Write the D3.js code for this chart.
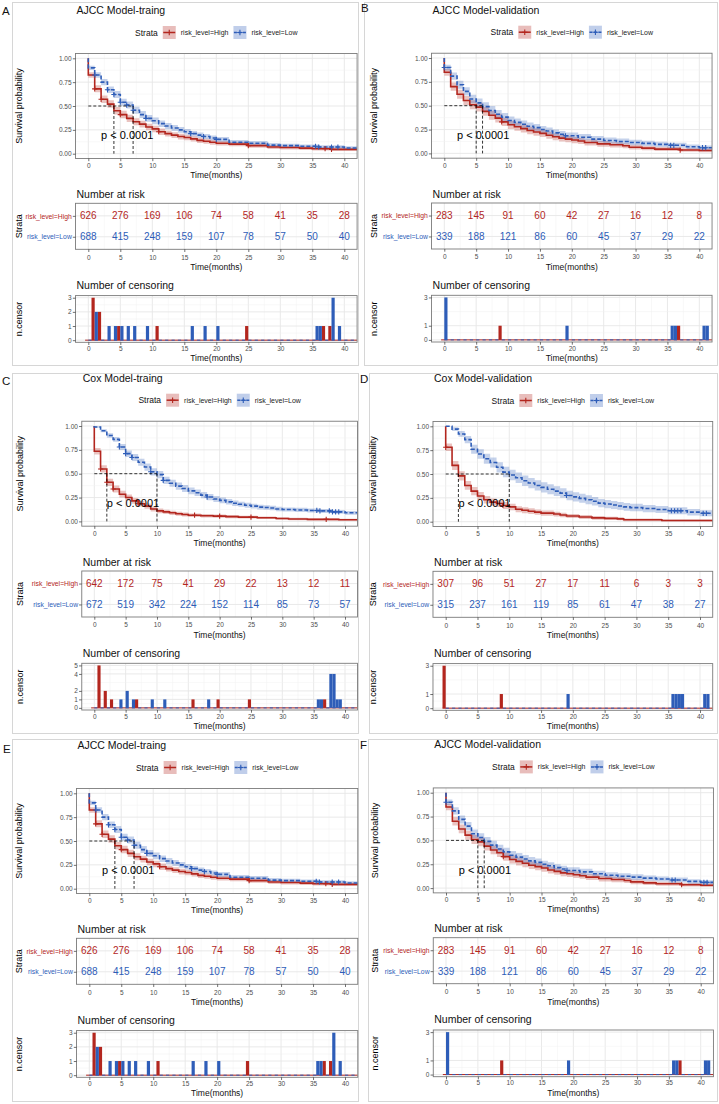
<!DOCTYPE html>
<html><head><meta charset="utf-8">
<script src="https://cdn.jsdelivr.net/npm/d3@7/dist/d3.min.js"></script>
<style>html,body{margin:0;padding:0;background:#fff;}svg{display:block;}</style>
</head><body>
<svg id="chart" width="719" height="1104" xmlns="http://www.w3.org/2000/svg"></svg>
<script>
// ================= DATA =================
const timeTicks = [0, 5, 10, 15, 20, 25, 30, 35, 40];
const survTicks = [0, 0.25, 0.5, 0.75, 1];
const strataNames = ["risk_level=High", "risk_level=Low"];
const pValueText = "p < 0.0001";

// ---- AJCC Model - training (A, E)
const ajccTrainHighTime = [0,1,2,3,4,5,6,7,8,9,10,11,12,13,14,15,16,17,18,19,20,22,25,28,30,33,35,38];
const ajccTrainHighSurv = [0.825,0.68,0.57,0.52,0.45,0.41,0.37,0.335,0.31,0.28,0.26,0.23,0.21,0.195,0.18,0.17,0.155,0.14,0.13,0.12,0.11,0.10,0.085,0.07,0.065,0.058,0.052,0.045];
const ajccTrainHighCI   = [0.03,0.037,0.039,0.039,0.039,0.039,0.038,0.037,0.036,0.035,0.034,0.033,0.031,0.03,0.03,0.029,0.028,0.027,0.026,0.025,0.024,0.023,0.022,0.021,0.02,0.019,0.019,0.018];
const ajccTrainLowTime  = [0,1,2,3,4,5,6,7,8,9,10,11,12,13,14,15,16,17,18,19,20,22,25,28,30,33,36,40];
const ajccTrainLowSurv  = [0.90,0.825,0.75,0.67,0.62,0.54,0.51,0.455,0.41,0.37,0.345,0.315,0.29,0.27,0.25,0.23,0.21,0.195,0.18,0.165,0.15,0.12,0.11,0.09,0.085,0.078,0.07,0.06];
const ajccTrainLowCI    = [0.022,0.029,0.033,0.035,0.036,0.037,0.037,0.037,0.037,0.036,0.035,0.034,0.033,0.032,0.031,0.03,0.029,0.028,0.027,0.026,0.025,0.024,0.022,0.021,0.02,0.019,0.019,0.018];
const ajccTrainHighRisk = [626,276,169,106,74,58,41,35,28];
const ajccTrainLowRisk  = [688,415,248,159,107,78,57,50,40];
const ajccTrainHighCens = [[1,3],[2,2],[5,1],[11,1],[25,1],[37,1],[38,1]];
const ajccTrainLowCens  = [[1,2],[3,1],[4,1],[5,1],[6,1],[7,1],[9,1],[16,1],[18,1],[20,1],[35.5,1],[36,1],[38,3],[39,1]];
const ajccTrainMedians  = [4, 7];
const ajccTrainCensTicks = [0,1,2,3];

// ---- AJCC Model - validation (B, F)
const ajccValHighTime = [0,1,2,3,4,5,6,7,8,9,10,11,12,13,14,15,16,17,18,19,20,21,22,24,26,28,29,31,33,37,40];
const ajccValHighSurv = [0.85,0.70,0.62,0.555,0.51,0.485,0.44,0.40,0.37,0.33,0.30,0.28,0.26,0.24,0.225,0.21,0.19,0.175,0.16,0.15,0.14,0.13,0.115,0.10,0.09,0.08,0.065,0.055,0.045,0.035,0.03];
const ajccValHighCI   = [0.035,0.044,0.046,0.047,0.047,0.047,0.046,0.046,0.045,0.044,0.043,0.042,0.041,0.04,0.039,0.038,0.037,0.036,0.035,0.034,0.033,0.032,0.031,0.03,0.028,0.027,0.025,0.023,0.021,0.019,0.018];
const ajccValLowTime  = [0,1,2,3,4,5,6,7,8,9,10,11,12,13,14,15,16,17,18,19,21,23,25,27,29,31,33,35,38,40];
const ajccValLowSurv  = [0.90,0.81,0.72,0.65,0.57,0.53,0.49,0.45,0.41,0.38,0.345,0.325,0.305,0.285,0.27,0.25,0.235,0.215,0.2,0.185,0.17,0.15,0.135,0.125,0.115,0.105,0.095,0.085,0.07,0.06];
const ajccValLowCI    = [0.03,0.038,0.042,0.044,0.045,0.046,0.046,0.046,0.045,0.044,0.043,0.042,0.041,0.04,0.039,0.038,0.037,0.036,0.035,0.034,0.033,0.032,0.031,0.03,0.029,0.028,0.027,0.026,0.024,0.022];
const ajccValHighRisk = [283,145,91,60,42,27,16,12,8];
const ajccValLowRisk  = [339,188,121,86,60,45,37,29,22];
const ajccValHighCens = [[9,1],[37,1]];
const ajccValLowCens  = [[0,3],[19,1],[35.5,1],[36,1],[40.5,1],[41,1]];
const ajccValMedians  = [5, 6];
const ajccValCensTicks = [0,1,3];

// ---- Cox Model - training (C)
const coxTrainHighTime = [0,1,2,3,4,5,6,7,8,9,10,11,12,13,14,15,17,19,21,23,26,29,31,34,39];
const coxTrainHighSurv = [0.735,0.55,0.41,0.34,0.285,0.25,0.215,0.185,0.16,0.13,0.11,0.1,0.09,0.08,0.072,0.065,0.06,0.055,0.05,0.045,0.038,0.03,0.025,0.021,0.018];
const coxTrainHighCI   = [0.034,0.038,0.038,0.037,0.035,0.033,0.031,0.03,0.028,0.026,0.024,0.023,0.022,0.021,0.02,0.019,0.018,0.017,0.016,0.015,0.014,0.013,0.012,0.011,0.01];
const coxTrainLowTime  = [0,1,2,3,4,5,6,7,8,9,10,11,12,13,14,15,16,17,18,19,20,21,22,23,24,25,26,27,28,29,30,32,34,36,38,40];
const coxTrainLowSurv  = [0.99,0.95,0.90,0.86,0.78,0.71,0.67,0.62,0.57,0.52,0.49,0.43,0.40,0.37,0.345,0.32,0.30,0.275,0.255,0.235,0.22,0.205,0.19,0.18,0.17,0.16,0.15,0.145,0.14,0.13,0.125,0.12,0.115,0.11,0.10,0.09];
const coxTrainLowCI    = [0.008,0.016,0.023,0.026,0.031,0.034,0.036,0.037,0.038,0.038,0.038,0.038,0.037,0.037,0.036,0.035,0.034,0.033,0.032,0.031,0.03,0.029,0.028,0.027,0.026,0.025,0.025,0.024,0.024,0.023,0.022,0.022,0.021,0.021,0.02,0.02];
const coxTrainHighRisk = [642,172,75,41,29,22,13,12,11];
const coxTrainLowRisk  = [672,519,342,224,152,114,85,73,57];
const coxTrainHighCens = [[1,5],[2,2],[3,1],[7,1],[16,1],[20,1],[25,1],[37,1]];
const coxTrainLowCens  = [[4,1],[5,2],[6,1],[9,1],[11,1],[18,1],[35.5,1],[36,1],[37.5,4],[38,4],[38.5,1],[39,1]];
const coxTrainMedians  = [2, 10];
const coxTrainCensTicks = [0,1,2,4,5];

// ---- Cox Model - validation (D)
const coxValHighTime = [0,1,2,3,4,5,6,7,8,9,10,11,12,13,14,15,17,18,19,21,23,25,27,28,34];
const coxValHighSurv = [0.78,0.59,0.48,0.38,0.32,0.27,0.23,0.205,0.19,0.17,0.155,0.13,0.12,0.11,0.10,0.09,0.08,0.07,0.06,0.05,0.04,0.035,0.03,0.02,0.012];
const coxValHighCI   = [0.04,0.047,0.048,0.046,0.044,0.042,0.04,0.038,0.037,0.036,0.034,0.032,0.031,0.03,0.028,0.027,0.025,0.024,0.022,0.021,0.02,0.018,0.016,0.014,0.01];
const coxValLowTime  = [1,2,3,4,5,6,7,8,9,10,11,12,13,14,15,16,17,18,19,20,21,22,23,24,25,26,27,28,29,31,33,35,38,40];
const coxValLowSurv  = [0.97,0.92,0.86,0.76,0.71,0.66,0.62,0.57,0.52,0.49,0.46,0.43,0.405,0.38,0.36,0.34,0.32,0.30,0.275,0.26,0.245,0.23,0.215,0.195,0.185,0.175,0.165,0.155,0.148,0.138,0.128,0.115,0.10,0.088];
const coxValLowCI    = [0.019,0.03,0.038,0.047,0.05,0.052,0.053,0.054,0.055,0.055,0.055,0.055,0.054,0.054,0.053,0.052,0.051,0.05,0.049,0.048,0.047,0.046,0.045,0.044,0.043,0.042,0.041,0.04,0.039,0.038,0.037,0.036,0.034,0.032];
const coxValHighRisk = [307,96,51,27,17,11,6,3,3];
const coxValLowRisk  = [315,237,161,119,85,61,47,38,27];
const coxValHighCens = [[0,3],[9,1]];
const coxValLowCens  = [[19,1],[35.5,1],[36,1],[36.5,1],[37,1],[40.5,1],[41,1]];
const coxValMedians  = [2, 10];
const coxValCensTicks = [0,1,3];

// ================= ASSEMBLY =================
function mk(hT,hS,hC,hR,hX,lT,lS,lC,lR,lX,med,ct){
  return {high:{time:hT,surv:hS,ci:hC,risk:hR,cens:hX},
          low:{time:lT,surv:lS,ci:lC,risk:lR,cens:lX}, medians:med, censTicks:ct};
}
const ajccTrain = mk(ajccTrainHighTime,ajccTrainHighSurv,ajccTrainHighCI,ajccTrainHighRisk,ajccTrainHighCens,
                     ajccTrainLowTime,ajccTrainLowSurv,ajccTrainLowCI,ajccTrainLowRisk,ajccTrainLowCens,ajccTrainMedians,ajccTrainCensTicks);
const ajccVal = mk(ajccValHighTime,ajccValHighSurv,ajccValHighCI,ajccValHighRisk,ajccValHighCens,
                   ajccValLowTime,ajccValLowSurv,ajccValLowCI,ajccValLowRisk,ajccValLowCens,ajccValMedians,ajccValCensTicks);
const coxTrain = mk(coxTrainHighTime,coxTrainHighSurv,coxTrainHighCI,coxTrainHighRisk,coxTrainHighCens,
                    coxTrainLowTime,coxTrainLowSurv,coxTrainLowCI,coxTrainLowRisk,coxTrainLowCens,coxTrainMedians,coxTrainCensTicks);
const coxVal = mk(coxValHighTime,coxValHighSurv,coxValHighCI,coxValHighRisk,coxValHighCens,
                  coxValLowTime,coxValLowSurv,coxValLowCI,coxValLowRisk,coxValLowCens,coxValMedians,coxValCensTicks);

const panels = [
  {id:"A", title:"AJCC Model-traing",   d:ajccTrain, box:[12,2,358,365],    letter:[2,15],    y1:58.3,  x0:88.3,  x40:344.3, labX:18.5},
  {id:"B", title:"AJCC Model-validation",d:ajccVal,  box:[364,2,717,365],   letter:[361,12],  y1:58,    x0:444.3, x40:699.3, labX:373.5},
  {id:"C", title:"Cox Model-traing",    d:coxTrain,  box:[12,373,358,733],  letter:[2,385],   y1:426,   x0:94.3,  x40:345,   labX:19.5},
  {id:"D", title:"Cox Model-validation",d:coxVal,    box:[369,373,717,733], letter:[360,383], y1:426.3, x0:445.7, x40:700,   labX:373},
  {id:"E", title:"AJCC Model-traing",   d:ajccTrain, box:[12,739,358,1101], letter:[3,753],   y1:793.3, x0:89.3,  x40:345,   labX:18.5},
  {id:"F", title:"AJCC Model-validation",d:ajccVal,  box:[368,739,717,1101],letter:[360,749], y1:792.7, x0:446,   x40:700.7, labX:375}
];

// ================= DRAWING =================
const FONT = "'Liberation Sans', Arial, Helvetica, sans-serif";
const RED = "#B3261E", BLUE = "#2E5DB8";
const TICK_COL = "#4D4D4D";
const svg = d3.select("#chart");
svg.append("rect").attr("width",719).attr("height",1104).attr("fill","#fff");
const defs = svg.append("defs");
let clipN = 0;
function addClip(x,y,w,h){
  const id = "clip" + (clipN++);
  defs.append("clipPath").attr("id",id).append("rect").attr("x",x).attr("y",y).attr("width",w).attr("height",h);
  return "url(#" + id + ")";
}
function addText(g,x,y,s,size,fill,anchor){
  return g.append("text").attr("x",x).attr("y",y).text(s)
    .attr("font-family",FONT).attr("font-size",size)
    .attr("fill",fill||"#000").attr("text-anchor",anchor||"start");
}
function addRotText(g,x,y,s,size){
  return g.append("text").attr("transform",`translate(${x},${y}) rotate(-90)`)
    .attr("text-anchor","middle").attr("dy","0.35em").text(s)
    .attr("font-family",FONT).attr("font-size",size).attr("fill","#000");
}
function plus(g,cx,cy,col,h){
  g.append("path").attr("d",`M${cx-h},${cy}H${cx+h}M${cx},${cy-h}V${cy+h}`)
    .attr("stroke",col).attr("stroke-width",1.1).attr("fill","none");
}
function frameBg(g,L,T,R,B){
  g.append("rect").attr("x",L).attr("y",T).attr("width",R-L).attr("height",B-T).attr("fill","#fff");
}
function frameBorder(g,L,T,R,B){
  g.append("rect").attr("x",L).attr("y",T).attr("width",R-L).attr("height",B-T)
    .attr("fill","none").attr("stroke","#7a7a7a").attr("stroke-width",0.9);
}
function vGrid(g,x,T,B){
  const minor = timeTicks.slice(1).map((t,i)=>(t+timeTicks[i])/2);
  g.append("g").selectAll("line").data(minor).join("line")
    .attr("x1",d=>x(d)).attr("x2",d=>x(d)).attr("y1",T).attr("y2",B)
    .attr("stroke","#f1f1f1").attr("stroke-width",0.5);
  g.append("g").selectAll("line").data(timeTicks).join("line")
    .attr("x1",d=>x(d)).attr("x2",d=>x(d)).attr("y1",T).attr("y2",B)
    .attr("stroke","#e6e6e6").attr("stroke-width",0.9);
}
function hGrid(g,y,major,minor,L,R){
  g.append("g").selectAll("line").data(minor).join("line")
    .attr("y1",d=>y(d)).attr("y2",d=>y(d)).attr("x1",L).attr("x2",R)
    .attr("stroke","#f1f1f1").attr("stroke-width",0.5);
  g.append("g").selectAll("line").data(major).join("line")
    .attr("y1",d=>y(d)).attr("y2",d=>y(d)).attr("x1",L).attr("x2",R)
    .attr("stroke","#e6e6e6").attr("stroke-width",0.9);
}
function styleAxis(ax,size){
  ax.attr("font-family",FONT).attr("font-size",size);
  ax.select(".domain").remove();
  ax.selectAll(".tick line").attr("stroke","#333").attr("stroke-width",0.7);
  ax.selectAll(".tick text").attr("fill",TICK_COL);
}
function bottomAxis(g,x,B,pad){
  const ax = g.append("g").attr("transform",`translate(0,${B})`)
    .call(d3.axisBottom(x).tickValues(timeTicks).tickSize(2.7).tickPadding(pad).tickFormat(d3.format("d")));
  styleAxis(ax,6.5);
  return ax;
}
function stepValue(times,surv,t){
  let s = 1;
  for (let i=0;i<times.length;i++){ if (times[i] <= t) s = surv[i]; }
  return s;
}
function curvePoints(c){
  const pts = [{t:0,s:1,lo:1,hi:1}];
  c.time.forEach((t,i)=>pts.push({t:t,s:c.surv[i],lo:Math.max(0,c.surv[i]-c.ci[i]),hi:Math.min(1,c.surv[i]+c.ci[i])}));
  const last = pts[pts.length-1];
  pts.push({t:42,s:last.s,lo:last.lo,hi:last.hi});
  return pts;
}

function drawPanel(p){
  const D = p.d;
  const g = svg.append("g");
  g.append("rect").attr("x",p.box[0]+0.5).attr("y",p.box[1]+0.5)
    .attr("width",p.box[2]-p.box[0]).attr("height",p.box[3]-p.box[1])
    .attr("fill","none").attr("stroke","#d6d6d6").attr("stroke-width",1);
  addText(g,p.letter[0],p.letter[1],p.id,11.5,"#111");

  const k = (p.x40-p.x0)/40;
  const x = d3.scaleLinear().domain([-2,42]).range([p.x0-2*k, p.x40+2*k]);
  const L = x(-2), R = x(42), y1 = p.y1, cxm = (L+R)/2;
  const curves = [{c:D.high,col:RED,dash:null},{c:D.low,col:BLUE,dash:"4,2"}];

  addText(g,L+1,y1-44.3,p.title,10.5,"#111");

  // legend
  const lg = g.append("g");
  let cx = 0;
  const st = addText(lg,0,3,"Strata",8.5,"#111");
  cx = st.node().getComputedTextLength() + 5;
  strataNames.forEach((lab,i)=>{
    const col = i ? BLUE : RED;
    lg.append("rect").attr("x",cx).attr("y",-6.5).attr("width",13).attr("height",13)
      .attr("fill",col).attr("fill-opacity",0.3);
    lg.append("line").attr("x1",cx+0.5).attr("x2",cx+12.5).attr("y1",0).attr("y2",0)
      .attr("stroke",col).attr("stroke-width",1.5).attr("stroke-dasharray",i ? "3,1.5" : null);
    plus(lg,cx+6.5,0,col,2.8);
    cx += 18;
    const tt = addText(lg,cx,2.5,lab,7,"#222");
    cx += tt.node().getComputedTextLength() + 5;
  });
  lg.attr("transform",`translate(${cxm-(cx-5)/2},${y1-25.8})`);

  // ---------- survival plot ----------
  const ys = d3.scaleLinear().domain([-0.05,1.05]).range([y1+100.17, y1-4.77]);
  const sT = ys(1.05), sB = ys(-0.05);
  frameBg(g,L,sT,R,sB);
  vGrid(g,x,sT,sB);
  hGrid(g,ys,survTicks,[0.125,0.375,0.625,0.875],L,R);
  const cg = g.append("g").attr("clip-path",addClip(L,sT,R-L,sB-sT));
  const area = d3.area().curve(d3.curveStepAfter).x(d=>x(d.t)).y0(d=>ys(d.lo)).y1(d=>ys(d.hi));
  const line = d3.line().curve(d3.curveStepAfter).x(d=>x(d.t)).y(d=>ys(d.s));
  curves.forEach(cv=>{
    cg.append("path").attr("d",area(curvePoints(cv.c))).attr("fill",cv.col).attr("fill-opacity",0.28);
  });
  curves.forEach(cv=>{
    cg.append("path").attr("d",line(curvePoints(cv.c))).attr("fill","none")
      .attr("stroke",cv.col).attr("stroke-width",1.6).attr("stroke-dasharray",cv.dash);
  });
  curves.forEach(cv=>{
    cv.c.cens.forEach(cc=>{
      plus(cg,x(cc[0]),ys(stepValue(cv.c.time,cv.c.surv,cc[0])),cv.col,2.6);
    });
  });
  const mmax = d3.max(D.medians);
  cg.append("line").attr("x1",x(0)).attr("x2",x(mmax)).attr("y1",ys(0.5)).attr("y2",ys(0.5))
    .attr("stroke","#000").attr("stroke-width",0.8).attr("stroke-dasharray","3,2");
  D.medians.forEach(m=>{
    cg.append("line").attr("x1",x(m)).attr("x2",x(m)).attr("y1",ys(0.5)).attr("y2",ys(0))
      .attr("stroke","#000").attr("stroke-width",0.8).attr("stroke-dasharray","3,2");
  });
  addText(g,x(2),ys(0.19)+3.9,pValueText,11,"#000");
  frameBorder(g,L,sT,R,sB);
  bottomAxis(g,x,sB,2.2);
  const ayS = g.append("g").attr("transform",`translate(${L},0)`)
    .call(d3.axisLeft(ys).tickValues(survTicks).tickSize(2.7).tickPadding(1.2).tickFormat(d3.format(".2f")));
  styleAxis(ayS,6.5);
  addText(g,cxm,sB+19.5,"Time(months)",8.5,"#111","middle");
  addRotText(g,p.labX,(sT+sB)/2,"Survival probability",9);

  // ---------- risk table ----------
  const rT = y1+145, rB = y1+191;
  const yr = d3.scaleLinear().domain([0.4,2.6]).range([rB,rT]);
  addText(g,L+1,y1+139.5,"Number at risk",10.5,"#111");
  frameBg(g,L,rT,R,rB);
  vGrid(g,x,rT,rB);
  hGrid(g,yr,[1,2],[],L,R);
  curves.forEach((cv,i)=>{
    const yy = yr(2-i);
    g.append("g").selectAll("text").data(cv.c.risk).join("text")
      .attr("x",(d,j)=>x(timeTicks[j])).attr("y",yy+3.6).attr("text-anchor","middle")
      .attr("font-family",FONT).attr("font-size",10).attr("fill",cv.col).text(d=>d);
  });
  frameBorder(g,L,rT,R,rB);
  bottomAxis(g,x,rB,3.0);
  const ayR = g.append("g").attr("transform",`translate(${L},0)`)
    .call(d3.axisLeft(yr).tickValues([2,1]).tickSize(2.7).tickPadding(1).tickFormat(v=>strataNames[2-v]));
  styleAxis(ayR,6.8);
  ayR.selectAll(".tick text").attr("fill",v=>v===2?RED:BLUE);
  addText(g,cxm,rB+21,"Time(months)",8.5,"#111","middle");
  addRotText(g,p.labX,(rT+rB)/2,"Strata",9);

  // ---------- censoring plot ----------
  const cT = y1+237.3, cB = y1+284;
  const cmax = d3.max(D.high.cens.concat(D.low.cens),d=>d[1]);
  const yc = d3.scaleLinear().domain([-0.05*cmax,1.05*cmax]).range([cB,cT]);
  addText(g,L+1,y1+230.7,"Number of censoring",10.5,"#111");
  frameBg(g,L,cT,R,cB);
  vGrid(g,x,cT,cB);
  const ct = D.censTicks;
  hGrid(g,yc,ct,ct.slice(1).map((v,i)=>(v+ct[i])/2),L,R);
  const bg = g.append("g").attr("clip-path",addClip(L,cT,R-L,cB-cT));
  const halfW = x(0.5)-x(0);
  bg.append("line").attr("x1",x(-0.5)).attr("x2",R).attr("y1",yc(0)).attr("y2",yc(0))
    .attr("stroke",RED).attr("stroke-width",1);
  bg.append("line").attr("x1",x(0)).attr("x2",R).attr("y1",yc(0)).attr("y2",yc(0))
    .attr("stroke",BLUE).attr("stroke-width",1).attr("stroke-dasharray",`${halfW},${halfW}`);
  curves.forEach((cv,i)=>{
    bg.append("g").selectAll("rect").data(cv.c.cens).join("rect")
      .attr("x",d=>i ? x(d[0]) : x(d[0]-0.5)).attr("width",halfW)
      .attr("y",d=>yc(d[1])).attr("height",d=>yc(0)-yc(d[1]))
      .attr("fill",cv.col);
  });
  frameBorder(g,L,cT,R,cB);
  bottomAxis(g,x,cB,1.3);
  const ayC = g.append("g").attr("transform",`translate(${L},0)`)
    .call(d3.axisLeft(yc).tickValues(ct).tickSize(2.7).tickPadding(1.2).tickFormat(d3.format("d")));
  styleAxis(ayC,6.5);
  addText(g,cxm,cB+19,"Time(months)",8.5,"#111","middle");
  addRotText(g,p.labX,(cT+cB)/2,"n.censor",9);
}

panels.forEach(drawPanel);
</script>
</body></html>
